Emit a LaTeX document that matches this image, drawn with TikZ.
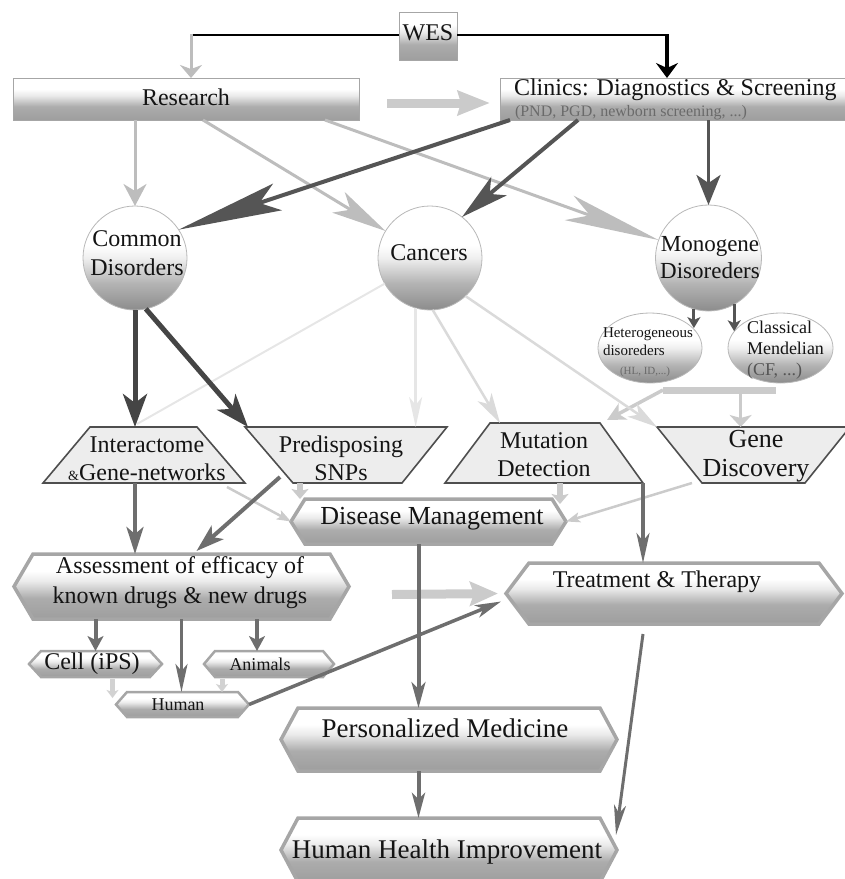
\documentclass[tikz,border=0pt]{standalone}
\usepackage{fontspec}
\setmainfont{Liberation Serif}
\usetikzlibrary{arrows.meta,calc,shapes.geometric}

\definecolor{txt}{HTML}{141414}
\definecolor{subgray}{HTML}{6A6A6A}
\definecolor{dk}{HTML}{555555}
\definecolor{dkk}{HTML}{454545}
\definecolor{md}{HTML}{6E6E6E}
\definecolor{ltA}{HTML}{BDBDBD}
\definecolor{ltB}{HTML}{CBCBCB}
\definecolor{ltC}{HTML}{D2D2D2}
\definecolor{vl}{HTML}{E6E6E6}
\definecolor{vl2}{HTML}{DADADA}
\definecolor{trapfill}{HTML}{EDEDED}
\definecolor{trapline}{HTML}{4E4E4E}
\definecolor{hexline}{HTML}{A6A6A6}
\definecolor{circline}{HTML}{B8B8B8}
\definecolor{cA}{HTML}{8C8C8C}
\definecolor{cB}{HTML}{B4B4B4}
\definecolor{cC}{HTML}{EFEFEF}
\definecolor{bA}{HTML}{9E9E9E}
\definecolor{bB}{HTML}{ACACAC}
\definecolor{bC}{HTML}{EAEAEA}

\pgfdeclareverticalshading{circshade}{100bp}{color(0bp)=(cA); color(25bp)=(cA); color(38bp)=(cB); color(50bp)=(cC); color(56bp)=(white); color(100bp)=(white)}
\pgfdeclareverticalshading{boxshade}{100bp}{color(0bp)=(bA); color(25bp)=(bA); color(41bp)=(bB); color(54bp)=(bC); color(62bp)=(white); color(100bp)=(white)}

\newcommand\fs[2]{\fontsize{#1}{#2}\selectfont}
% hexagon with pointed left/right ends drawn on a rectangle node
\newcommand\hexa[3][]{\path[#1] (#2.west) -- ([xshift=#3pt]#2.north west) -- ([xshift=-#3pt]#2.north east) -- (#2.east) -- ([xshift=-#3pt]#2.south east) -- ([xshift=#3pt]#2.south west) -- cycle;}
% upright trapezoid (short side on top)
\newcommand\trapu[3]{\path[trapst] (#1.south west) -- ([xshift=#2pt]#1.north west) -- ([xshift=-#3pt]#1.north east) -- (#1.south east) -- cycle;}
% inverted trapezoid (short side at bottom)
\newcommand\trapd[3]{\path[trapst] (#1.north west) -- (#1.north east) -- ([xshift=-#3pt]#1.south east) -- ([xshift=#2pt]#1.south west) -- cycle;}

\tikzset{
  sh/.style={rectangle, inner sep=0pt, outer sep=0pt, draw=none},
  lbl/.style={inner sep=0pt, outer sep=0pt, text=txt, align=center},
  hexfill/.style={shade, shading=boxshade, draw=hexline, line width=3.5pt, line join=miter},
  hexsmall/.style={shade, shading=boxshade, draw=hexline, line width=2.5pt, line join=miter},
  trapst/.style={fill=trapfill, draw=trapline, line width=1.6pt, line join=miter},
  circ/.style={circle, inner sep=0pt, outer sep=0pt, shade, shading=circshade, draw=circline, line width=0.8pt},
  ell/.style={ellipse, inner sep=0pt, outer sep=0pt, shade, shading=circshade, draw=circline, line width=0.8pt},
  topbox/.style={rectangle, inner sep=0pt, outer sep=0pt, shade, shading=boxshade, draw=gray!70, line width=0.8pt},
}

\begin{document}
\begin{tikzpicture}[x=1pt,y=-1pt]
\useasboundingbox (0,0) rectangle (845,879);

% ---------- top boxes ----------
\node[topbox, minimum width=58pt, minimum height=48pt] (wes) at (428,36) {};
\node[topbox, minimum width=346pt, minimum height=42pt] (research) at (186,99) {};
\node[topbox, minimum width=345pt, minimum height=42pt] (clinics) at (672.5,99) {};

% ---------- circles and ellipses ----------
\node[circ, minimum size=104pt] (common) at (135,258) {};
\node[circ, minimum size=104pt] (cancers) at (430,258) {};
\node[circ, minimum size=106pt] (mono) at (708.5,258) {};
\node[ell, minimum width=104pt, minimum height=70pt] (hetero) at (650,348) {};
\node[ell, minimum width=105pt, minimum height=70pt] (classical) at (780.5,348) {};

% ---------- trapezoids ----------
\node[sh, minimum width=202pt, minimum height=56pt] (inter) at (144,455) {};
\node[sh, minimum width=202pt, minimum height=56pt] (pred) at (346,455) {};
\node[sh, minimum width=198pt, minimum height=60pt] (mut) at (544,453) {};
\node[sh, minimum width=193pt, minimum height=56pt] (gene) at (753.5,455) {};
\trapu{inter}{47}{48}
\trapd{pred}{48}{45}
\trapu{mut}{45}{43}
\trapd{gene}{45}{45}

% ---------- hexagons ----------
\node[sh, minimum width=275pt, minimum height=45pt] (dm) at (428.5,521.5) {};
\node[sh, minimum width=335pt, minimum height=65pt] (assess) at (181.5,586.5) {};
\node[sh, minimum width=336pt, minimum height=61pt] (treat) at (674,593.5) {};
\node[sh, minimum width=133pt, minimum height=26pt] (cell) at (95.5,664) {};
\node[sh, minimum width=130pt, minimum height=26pt] (animals) at (269,664) {};
\node[sh, minimum width=133pt, minimum height=25pt] (human) at (182.5,704.5) {};
\node[sh, minimum width=336pt, minimum height=63pt] (pers) at (449,739.5) {};
\node[sh, minimum width=336pt, minimum height=64pt] (hhi) at (449,850) {};
\hexa[hexfill]{dm}{14}
\hexa[hexfill]{assess}{19}
\hexa[hexfill]{treat}{23}
\hexa[hexsmall]{cell}{12}
\hexa[hexsmall]{animals}{11}
\hexa[hexsmall]{human}{11}
\hexa[hexfill]{pers}{17}
\hexa[hexfill]{hhi}{17}

% ---------- texts ----------
\node[lbl, font=\fs{24}{26}] (wesT) at (428,33) {WES};
\node[lbl, font=\fs{24}{26}] (resT) at (186,97) {Research};
\node[lbl, font=\fs{24}{26}, anchor=west] (clinT) at (514,90) {Clinics: Diagnostics \& Screening};
\node[lbl, font=\fs{16}{18}, text=subgray, anchor=west] (clinS) at (515,113) {(PND, PGD, newborn screening, ...)};
\node[lbl, font=\fs{24}{29}] (commonT) at (137,253) {Common\\Disorders};
\node[lbl, font=\fs{24}{26}] (cancT) at (429,253) {Cancers};
\node[lbl, font=\fs{23}{27}] (monoT) at (710,258) {Monogene\\Disoreders};
\node[lbl, font=\fs{15}{18.5}, align=left, anchor=west] (hetT) at (603,352) {Heterogeneous\\disoreders\\\hspace*{17pt}{\fs{11}{12}\color{subgray}(HL, ID,...)}};
\node[lbl, font=\fs{18}{21}, align=left, anchor=west] (clasT) at (747,350) {Classical\\Mendelian\\{\color{subgray!80!black}(CF, ...)}};
\node[lbl, font=\fs{24}{28}] (interT) at (147,459) {Interactome\\{\fs{14}{16}\&}Gene-networks};
\node[lbl, font=\fs{24}{28}] (predT) at (341,458) {Predisposing\\SNPs};
\node[lbl, font=\fs{24}{28}] (mutT) at (544,455) {Mutation\\Detection};
\node[lbl, font=\fs{26}{29}] (geneT) at (756,456) {Gene\\Discovery};
\node[lbl, font=\fs{26}{28}] (dmT) at (432,519) {Disease Management};
\node[lbl, font=\fs{24}{30}] (assessT) at (180,583) {Assessment of efficacy of\\known drugs \& new drugs};
\node[lbl, font=\fs{24}{26}] (treatT) at (657,582) {Treatment \& Therapy};
\node[lbl, font=\fs{24}{26}] (cellT) at (92,664) {Cell (iPS)};
\node[lbl, font=\fs{18}{20}] (animT) at (260,664) {Animals};
\node[lbl, font=\fs{18}{20}] (humT) at (178,705) {Human};
\node[lbl, font=\fs{27}{29}] (persT) at (445,728) {Personalized Medicine};
\node[lbl, font=\fs{27}{29}] (hhiT) at (447,852) {Human Health Improvement};

% ---------- WES connectors ----------
\coordinate (wl) at (191,35);
\coordinate (wr) at (667,35);
\draw[black, line width=1.8pt] (wl) -- (wl -| wes.west);
\draw[black, line width=1.8pt] (wr -| wes.east) -- (wr);
\draw[ltA, line width=3pt, -{Stealth[length=13pt,width=22pt,inset=4pt]}] ([yshift=1pt]wl) -- (wl |- research.north);
\draw[black, line width=3.5pt, -{Stealth[length=15pt,width=22pt,inset=5pt]}] ([yshift=1pt]wr) -- (wr |- clinics.north);

% ---------- research / clinics connectors ----------
\draw[ltB, line width=9pt, -{Stealth[length=32pt,width=24pt,inset=3pt]}] ($(research.east)+(28,4)$) -- ($(clinics.west)+(-10,4)$);
\draw[ltA, line width=3pt, -{Stealth[length=22pt,width=23pt,inset=7pt]}] (common.north |- research.south) -- (common.north);
\draw[ltA, line width=3pt, -{Stealth[length=55pt,width=24pt,inset=14pt]}] ($(research.south west)+(190,0)$) -- (cancers);
\draw[ltA, line width=3pt, -{Stealth[length=95pt,width=26pt,inset=22pt]}] ($(research.south west)+(312,0)$) -- (mono);
\draw[dk, line width=4pt, -{Stealth[length=104pt,width=28pt,inset=19pt]}] ($(clinics.south west)+(10,0)$) -- (common.33);
\draw[dk, line width=4pt, -{Stealth[length=48pt,width=24pt,inset=12pt]}] ($(clinics.south west)+(78,0)$) -- (cancers.52);
\draw[dk, line width=3.5pt, -{Stealth[length=30pt,width=24pt,inset=8pt]}] (clinics.south -| mono.north) -- (mono.north);

% ---------- monogene ----------
\draw[dk, line width=3pt, -{Stealth[length=11pt,width=13pt,inset=3pt]}] (mono.254) -- (mono.254 |- hetero.25);
\draw[dk, line width=3pt, -{Stealth[length=11pt,width=13pt,inset=3pt]}] (mono.299) -- (mono.299 |- classical.160);
\coordinate (barL) at ($(hetero.south)+(13,7)$);
\coordinate (barR) at ($(classical.south)+(-5,7)$);
\coordinate (barM) at ($(barL)!0.69!(barR)$);
\draw[ltB, line width=7pt] (barL) -- (barR);
\draw[ltB, line width=3.5pt, -{Stealth[length=12pt,width=22pt,inset=3pt]}] (barM) -- (barM |- gene.north);
\draw[ltB, line width=3.5pt, -{Stealth[length=18pt,width=18pt,inset=5pt]}] (barL) -- ($(mut.north east)+(-36,-3)$);

% ---------- cancers ----------
\draw[vl, line width=2pt] (cancers) -- ($(inter.north)+(-7,-3)$);
\draw[vl, line width=2.5pt, -{Stealth[length=30pt,width=13pt,inset=8pt]}] (cancers.254) -- (cancers.254 |- pred.north);
\draw[vl2, line width=2.5pt, -{Stealth[length=30pt,width=16pt,inset=8pt]}] (cancers.273) -- ($(mut.north west)+(55,0)$);
\draw[vl2, line width=2.5pt, -{Stealth[length=30pt,width=16pt,inset=8pt]}] (cancers.313) -- (gene.north west);

% ---------- common ----------
\draw[dkk, line width=5pt, -{Stealth[length=33pt,width=24pt,inset=9pt]}] (common.south) -- (common.south |- inter.north);
\draw[dkk, line width=5pt, -{Stealth[length=33pt,width=24pt,inset=9pt]}] (common.282) -- ($(pred.north west)+(3,0)$);

% ---------- lower part ----------
\coordinate (i1) at ($(inter.south)+(-9,0)$);
\coordinate (p1) at ($(pred.south west)+(55,0)$);
\coordinate (m1) at ($(mut.south west)+(115,0)$);
\coordinate (d1) at ($(dm.south)+(-10,0)$);
\coordinate (a1) at ($(animals.north)+(-12,0)$);
\coordinate (c1) at ($(cell.south)+(17,2)$);
\coordinate (a2) at ($(animals.south)+(-47,2)$);

\draw[ltB, line width=9pt, -{Stealth[length=28pt,width=24pt,inset=4pt]}] ($(assess.east)+(43,8)$) -- ($(treat.west)+(-8,0)$);
\draw[ltB, line width=2.5pt, -{Stealth[length=14pt,width=10pt,inset=3pt]}] ($(inter.south east)+(-18,4)$) -- (dm.west);
\draw[ltB, line width=6pt, -{Stealth[length=10pt,width=17pt,inset=2pt]}] (p1) -- (p1 |- dm.north);
\draw[ltB, line width=6pt, -{Stealth[length=10pt,width=17pt,inset=2pt]}] (m1) -- ($(m1 |- dm.north)+(0,5)$);
\draw[ltB, line width=2.5pt, -{Stealth[length=14pt,width=10pt,inset=3pt]}] ($(gene.south west)+(35,0)$) -- (dm.east);

\draw[md, line width=4pt, -{Stealth[length=27pt,width=17pt,inset=7pt]}] (i1) -- (i1 |- assess.north);
\draw[md, line width=4pt, -{Stealth[length=28pt,width=18pt,inset=7pt]}] ($(pred.south west)+(35,-6)$) -- ($(assess.north)+(15,-3)$);
\draw[md, line width=3.5pt, -{Stealth[length=30pt,width=13pt,inset=8pt]}] (mut.south east) -- (mut.south east |- treat.north);
\draw[md, line width=4pt, -{Stealth[length=26pt,width=14pt,inset=7pt]}] (d1) -- (d1 |- pers.north);
\draw[md, line width=3.5pt, -{Stealth[length=26pt,width=13pt,inset=7pt]}] (human.east) -- ($(treat.west)+(-5,8)$);
\draw[md, line width=4pt, -{Stealth[length=15pt,width=16pt,inset=4pt]}] (cell.north |- assess.south) -- (cell.north);
\draw[md, line width=3pt, -{Stealth[length=28pt,width=12pt,inset=7pt]}] (assess.south) -- (assess.south |- human.north);
\draw[md, line width=4pt, -{Stealth[length=15pt,width=16pt,inset=4pt]}] (a1 |- assess.south) -- (a1);
\draw[ltC, line width=5pt, -{Stealth[length=8pt,width=12pt,inset=2pt]}] (c1) -- ($(c1 |- human.north)+(0,6)$);
\draw[ltC, line width=5pt, -{Stealth[length=8pt,width=12pt,inset=2pt]}] (a2) -- (a2 |- human.north);
\draw[md, line width=4pt, -{Stealth[length=25pt,width=13pt,inset=6pt]}] (d1 |- pers.south) -- (d1 |- hhi.north);
\draw[md, line width=3pt, -{Stealth[length=30pt,width=12pt,inset=8pt]}] ($(treat.south)+(-31,10)$) -- ($(hhi.east)+(-1,-15)$);
\end{tikzpicture}
\end{document}
